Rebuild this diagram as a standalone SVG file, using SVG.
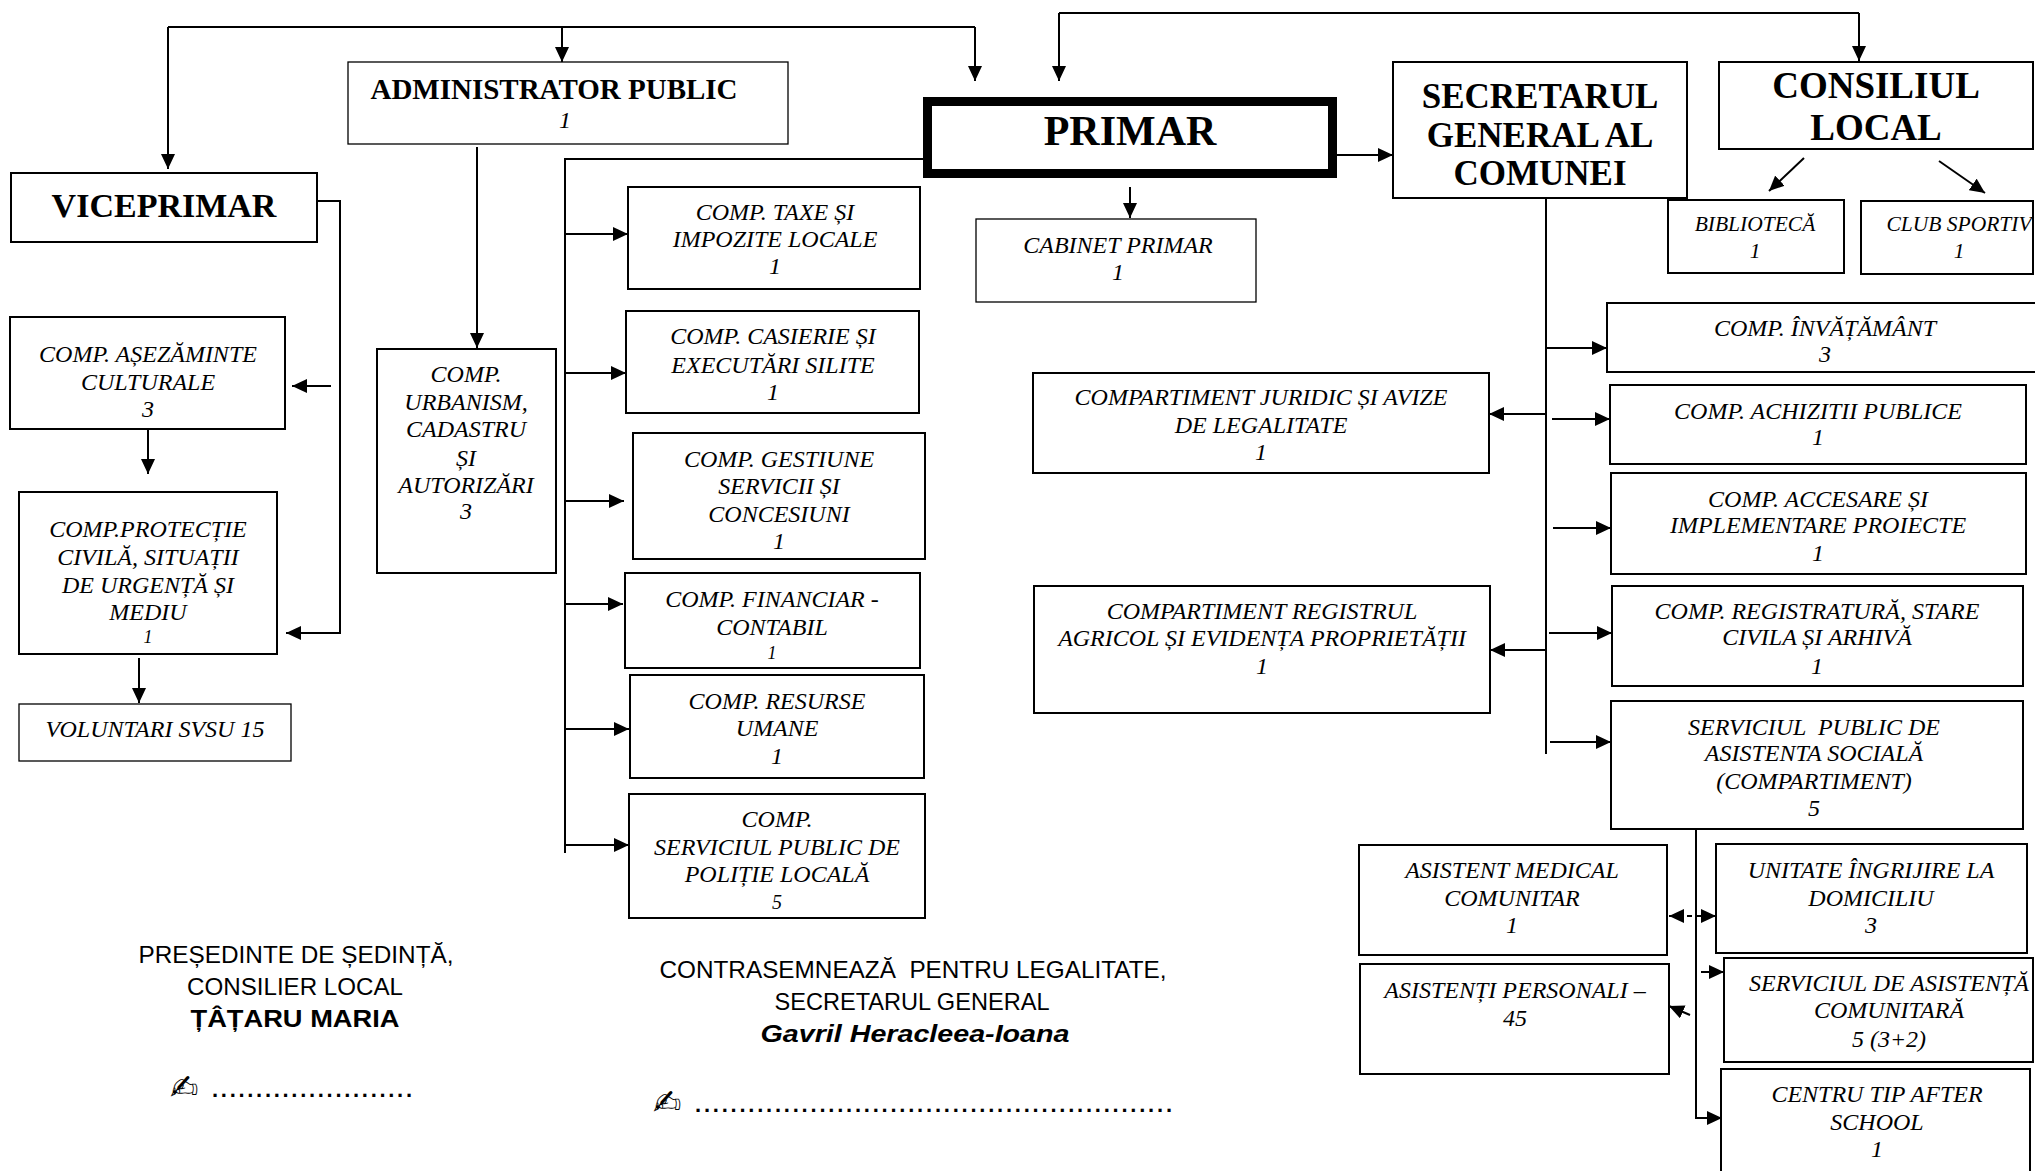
<svg xmlns="http://www.w3.org/2000/svg" width="2035" height="1171" viewBox="0 0 2035 1171">
<style>
.box{fill:#fff;stroke:#000;stroke-width:2}
.thin{stroke-width:1.3}
.t{font-family:"Liberation Serif","Times New Roman",serif;font-style:italic;font-size:24px;text-anchor:middle;fill:#000}
.s{font-size:21.5px}
.h{font-family:"Liberation Serif","Times New Roman",serif;font-weight:bold;text-anchor:middle;fill:#000}
.c{stroke:#000;stroke-width:2;fill:none}
.a{marker-end:url(#ar)}
.f{font-family:"Liberation Sans",Arial,sans-serif;font-size:24px;text-anchor:middle;fill:#000}
.g{font-family:"DejaVu Sans",sans-serif;font-size:34px;fill:#000}
.d{font-family:"Liberation Sans",Arial,sans-serif;font-size:22px;font-weight:bold;fill:#000}
</style>
<defs>
<marker id="ar" markerUnits="userSpaceOnUse" markerWidth="16" markerHeight="14" refX="15" refY="7" orient="auto"><path d="M0,0 L15,7 L0,14 z" fill="#000"/></marker>
<marker id="ar2" markerUnits="userSpaceOnUse" markerWidth="16" markerHeight="14" refX="15" refY="7" orient="auto-start-reverse"><path d="M0,0 L15,7 L0,14 z" fill="#000"/></marker>
</defs>
<rect width="2035" height="1171" fill="#fff"/>
<g id="connectors">
<path class="c" d="M168,27 L975,27"/>
<path class="c a" d="M168,27 L168,169"/>
<path class="c a" d="M562,27 L562,62"/>
<path class="c a" d="M975,27 L975,81"/>
<path class="c" d="M1059,13 L1859,13"/>
<path class="c a" d="M1059,13 L1059,81"/>
<path class="c a" d="M1859,13 L1859,61"/>
<path class="c a" d="M1337,155 L1393,155"/>
<path class="c a" d="M1130,187 L1130,218"/>
<path class="c" d="M923,159 L565,159 L565,853"/>
<path class="c a" d="M565,234 L628,234"/>
<path class="c a" d="M565,373 L626,373"/>
<path class="c a" d="M565,501 L624,501"/>
<path class="c a" d="M565,604 L623,604"/>
<path class="c a" d="M565,729 L629,729"/>
<path class="c a" d="M565,845 L629,845"/>
<path class="c a" d="M477,147 L477,348"/>
<path class="c a" d="M317,201 L340,201 L340,633 L286,633"/>
<path class="c a" d="M331,386 L292,386"/>
<path class="c a" d="M148,430 L148,474"/>
<path class="c a" d="M139,658 L139,703"/>
<path class="c" d="M1546,198 L1546,754"/>
<path class="c a" d="M1546,348 L1607,348"/>
<path class="c a" d="M1546,414 L1489,414"/>
<path class="c a" d="M1552,419 L1610,419"/>
<path class="c a" d="M1553,528 L1611,528"/>
<path class="c a" d="M1549,633 L1612,633"/>
<path class="c a" d="M1546,650 L1490,650"/>
<path class="c a" d="M1550,742 L1611,742"/>
<path class="c a" d="M1804,158 L1769,191"/>
<path class="c a" d="M1939,161 L1985,193"/>
<path class="c a" d="M1696,829 L1696,1118 L1722,1118"/>
<path class="c" d="M1669,916 L1716,916" stroke-dasharray="5,4" marker-start="url(#ar2)" marker-end="url(#ar2)"/>
<path class="c a" d="M1701,972 L1724,972"/>
<path class="c a" d="M1690,1015 L1669,1006"/>
</g>
<g id="viceprimar"><rect class="box" x="11" y="173" width="306" height="69"/><text class="h" x="164" y="217" font-size="34">VICEPRIMAR</text></g>
<g id="administrator"><rect class="box thin" x="348" y="62" width="440" height="82"/><text class="h" x="554" y="99" font-size="29">ADMINISTRATOR PUBLIC</text><text class="t" x="565" y="128" font-size="22">1</text></g>
<g id="primar"><rect x="927.5" y="101.5" width="405" height="72" fill="#fff" stroke="#000" stroke-width="9"/><text class="h" x="1130" y="145" font-size="42">PRIMAR</text></g>
<g id="secretarul"><rect class="box" x="1393" y="62" width="294" height="136"/><text class="h" font-size="35"><tspan x="1540" y="108">SECRETARUL</tspan><tspan x="1540" y="147">GENERAL AL</tspan><tspan x="1540" y="185">COMUNEI</tspan></text></g>
<g id="consiliul"><rect class="box" x="1719" y="62" width="314" height="87"/><text class="h" font-size="37"><tspan x="1876" y="98">CONSILIUL</tspan><tspan x="1876" y="140">LOCAL</tspan></text></g>
<g id="cabinet"><rect class="box thin" x="976" y="219" width="280" height="83"/><text class="t" font-size="23"><tspan x="1118" y="253">CABINET PRIMAR</tspan><tspan x="1118" y="280">1</tspan></text></g>
<g id="biblioteca"><rect class="box" x="1668" y="200" width="176" height="73"/><text class="t s"><tspan x="1755" y="231">BIBLIOTECĂ</tspan><tspan x="1755" y="258">1</tspan></text></g>
<g id="club"><rect class="box" x="1861" y="201" width="172" height="73"/><text class="t s"><tspan x="1959" y="231">CLUB SPORTIV</tspan><tspan x="1959" y="258">1</tspan></text></g>
<g id="taxe"><rect class="box" x="628" y="187" width="292" height="102"/><text class="t"><tspan x="775" y="220">COMP. TAXE ȘI</tspan><tspan x="775" y="247">IMPOZITE LOCALE</tspan><tspan x="775" y="274">1</tspan></text></g>
<g id="casierie"><rect class="box" x="626" y="311" width="293" height="102"/><text class="t"><tspan x="773" y="344">COMP. CASIERIE ȘI</tspan><tspan x="773" y="373">EXECUTĂRI SILITE</tspan><tspan x="773" y="400">1</tspan></text></g>
<g id="gestiune"><rect class="box" x="633" y="433" width="292" height="126"/><text class="t"><tspan x="779" y="467">COMP. GESTIUNE</tspan><tspan x="779" y="494">SERVICII ȘI</tspan><tspan x="779" y="522">CONCESIUNI</tspan><tspan x="779" y="549">1</tspan></text></g>
<g id="financiar"><rect class="box" x="625" y="573" width="295" height="95"/><text class="t"><tspan x="772" y="607">COMP. FINANCIAR -</tspan><tspan x="772" y="635">CONTABIL</tspan><tspan x="772" y="659" font-size="18">1</tspan></text></g>
<g id="resurse"><rect class="box" x="630" y="675" width="294" height="103"/><text class="t"><tspan x="777" y="709">COMP. RESURSE</tspan><tspan x="777" y="736">UMANE</tspan><tspan x="777" y="764">1</tspan></text></g>
<g id="politie"><rect class="box" x="629" y="794" width="296" height="124"/><text class="t"><tspan x="777" y="827">COMP.</tspan><tspan x="777" y="855">SERVICIUL PUBLIC DE</tspan><tspan x="777" y="882">POLIȚIE LOCALĂ</tspan><tspan x="777" y="909" font-size="20">5</tspan></text></g>
<g id="urbanism"><rect class="box" x="377" y="349" width="179" height="224"/><text class="t"><tspan x="466" y="382">COMP.</tspan><tspan x="466" y="410">URBANISM,</tspan><tspan x="466" y="437">CADASTRU</tspan><tspan x="466" y="466">ȘI</tspan><tspan x="466" y="493">AUTORIZĂRI</tspan><tspan x="466" y="519">3</tspan></text></g>
<g id="asezaminte"><rect class="box" x="10" y="317" width="275" height="112"/><text class="t"><tspan x="148" y="362">COMP. AȘEZĂMINTE</tspan><tspan x="148" y="390">CULTURALE</tspan><tspan x="148" y="417">3</tspan></text></g>
<g id="protectie"><rect class="box" x="19" y="492" width="258" height="162"/><text class="t"><tspan x="148" y="537">COMP.PROTECȚIE</tspan><tspan x="148" y="565">CIVILĂ, SITUAȚII</tspan><tspan x="148" y="593">DE URGENȚĂ ȘI</tspan><tspan x="148" y="620">MEDIU</tspan><tspan x="148" y="643" font-size="18">1</tspan></text></g>
<g id="voluntari"><rect class="box thin" x="19" y="704" width="272" height="57"/><text class="t" x="155" y="737">VOLUNTARI SVSU 15</text></g>
<g id="juridic"><rect class="box" x="1033" y="373" width="456" height="100"/><text class="t"><tspan x="1261" y="405">COMPARTIMENT JURIDIC ȘI AVIZE</tspan><tspan x="1261" y="433">DE LEGALITATE</tspan><tspan x="1261" y="460">1</tspan></text></g>
<g id="registrul"><rect class="box" x="1034" y="586" width="456" height="127"/><text class="t"><tspan x="1262" y="619">COMPARTIMENT REGISTRUL</tspan><tspan x="1262" y="646">AGRICOL ȘI EVIDENȚA PROPRIETĂȚII</tspan><tspan x="1262" y="674">1</tspan></text></g>
<g id="invatamant"><rect class="box" x="1607" y="303" width="435" height="69"/><text class="t"><tspan x="1825" y="336">COMP. ÎNVĂȚĂMÂNT</tspan><tspan x="1825" y="362">3</tspan></text></g>
<g id="achizitii"><rect class="box" x="1610" y="385" width="416" height="79"/><text class="t"><tspan x="1818" y="419">COMP. ACHIZITII PUBLICE</tspan><tspan x="1818" y="445">1</tspan></text></g>
<g id="accesare"><rect class="box" x="1611" y="473" width="415" height="101"/><text class="t"><tspan x="1818" y="507">COMP. ACCESARE ȘI</tspan><tspan x="1818" y="533">IMPLEMENTARE PROIECTE</tspan><tspan x="1818" y="561">1</tspan></text></g>
<g id="registratura"><rect class="box" x="1612" y="586" width="411" height="100"/><text class="t"><tspan x="1817" y="619">COMP. REGISTRATURĂ, STARE</tspan><tspan x="1817" y="645">CIVILA ȘI ARHIVĂ</tspan><tspan x="1817" y="674">1</tspan></text></g>
<g id="spas"><rect class="box" x="1611" y="701" width="412" height="128"/><text class="t" xml:space="preserve"><tspan x="1814" y="735">SERVICIUL  PUBLIC DE</tspan><tspan x="1814" y="761">ASISTENTA SOCIALĂ</tspan><tspan x="1814" y="789">(COMPARTIMENT)</tspan><tspan x="1814" y="816">5</tspan></text></g>
<g id="asistent-medical"><rect class="box" x="1359" y="845" width="308" height="110"/><text class="t"><tspan x="1512" y="878">ASISTENT MEDICAL</tspan><tspan x="1512" y="906">COMUNITAR</tspan><tspan x="1512" y="933">1</tspan></text></g>
<g id="asistenti-personali"><rect class="box" x="1360" y="964" width="309" height="110"/><text class="t"><tspan x="1515" y="998">ASISTENȚI PERSONALI –</tspan><tspan x="1515" y="1026">45</tspan></text></g>
<g id="unitate"><rect class="box" x="1716" y="844" width="311" height="109"/><text class="t"><tspan x="1871" y="878">UNITATE ÎNGRIJIRE LA</tspan><tspan x="1871" y="906">DOMICILIU</tspan><tspan x="1871" y="933">3</tspan></text></g>
<g id="serviciul-comunitar"><rect class="box" x="1724" y="958" width="309" height="104"/><text class="t"><tspan x="1889" y="991">SERVICIUL DE ASISTENȚĂ</tspan><tspan x="1889" y="1018">COMUNITARĂ</tspan><tspan x="1889" y="1047">5 (3+2)</tspan></text></g>
<g id="centru"><rect class="box" x="1721" y="1069" width="309" height="110"/><text class="t"><tspan x="1877" y="1102">CENTRU TIP AFTER</tspan><tspan x="1877" y="1130">SCHOOL</tspan><tspan x="1877" y="1157">1</tspan></text></g>
<g id="semnaturi">
<text class="f" x="296" y="963" textLength="315" lengthAdjust="spacingAndGlyphs">PREȘEDINTE DE ȘEDINȚĂ,</text>
<text class="f" x="295" y="995" textLength="216" lengthAdjust="spacingAndGlyphs">CONSILIER LOCAL</text>
<text class="f" x="295" y="1027" font-weight="bold" textLength="209" lengthAdjust="spacingAndGlyphs">ȚÂȚARU MARIA</text>
<text class="g" x="170" y="1099">✍</text>
<text class="d" x="212" y="1097" textLength="200" lengthAdjust="spacing">.......................</text>
<text class="f" x="913" y="978" textLength="507" lengthAdjust="spacingAndGlyphs" xml:space="preserve">CONTRASEMNEAZĂ  PENTRU LEGALITATE,</text>
<text class="f" x="912" y="1010" textLength="275" lengthAdjust="spacingAndGlyphs">SECRETARUL GENERAL</text>
<text class="f" x="915" y="1042" font-weight="bold" font-style="italic" textLength="309" lengthAdjust="spacingAndGlyphs">Gavril Heracleea-Ioana</text>
<text class="g" x="653" y="1114">✍</text>
<text class="d" x="695" y="1112" textLength="477" lengthAdjust="spacing">......................................................</text>
</g>
</svg>
